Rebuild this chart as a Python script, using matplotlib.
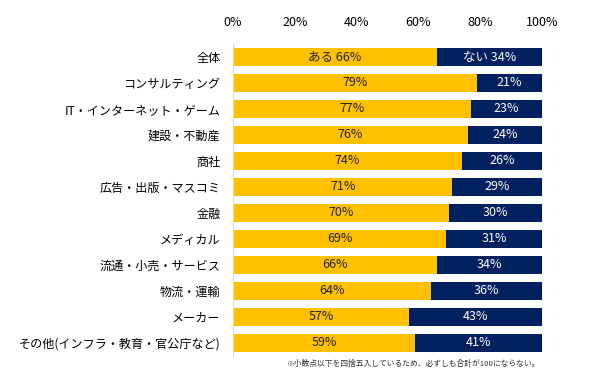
import matplotlib
matplotlib.use("Agg")
import matplotlib.pyplot as plt

plt.rcParams['font.family'] = ['Noto Sans CJK JP', 'DejaVu Sans']

categories = ["全体", "コンサルティング", "IT・インターネット・ゲーム", "建設・不動産",
              "商社", "広告・出版・マスコミ", "金融", "メディカル",
              "流通・小売・サービス", "物流・運輸", "メーカー",
              "その他(インフラ・教育・官公庁など)"]
yes_pct = [66, 79, 77, 76, 74, 71, 70, 69, 66, 64, 57, 59]
no_pct = [34, 21, 23, 24, 26, 29, 30, 31, 34, 36, 43, 41]
ticks = [0, 20, 40, 60, 80, 100]

YELLOW = '#FFC000'
NAVY = '#002060'

fig = plt.figure(figsize=(5.91, 3.78), dpi=100)
ax = fig.add_axes([233 / 591, 1 - 356 / 378, 309 / 591, 312 / 378])

ys = list(range(len(categories)))
ax.barh(ys, yes_pct, height=0.69, color=YELLOW)
ax.barh(ys, no_pct, left=yes_pct, height=0.69, color=NAVY)

for i, (a, b) in enumerate(zip(yes_pct, no_pct)):
    la = f"ある {a}%" if i == 0 else f"{a}%"
    lb = f"ない {b}%" if i == 0 else f"{b}%"
    ax.text(a / 2, i, la, ha='center', va='center', fontsize=9, color='#222222')
    ax.text(a + b / 2, i, lb, ha='center', va='center', fontsize=9, color='white')

ax.set_xlim(0, 100)
ax.set_ylim(len(categories) - 0.5, -0.5)
ax.set_yticks(ys)
ax.set_yticklabels(categories, fontsize=8.7)
ax.set_xticks(ticks)
ax.set_xticklabels([f"{t}%" for t in ticks], fontsize=9)
ax.xaxis.tick_top()
ax.tick_params(axis='y', length=0, pad=9)
ax.tick_params(axis='x', length=0, pad=11)
for s in ['top', 'right', 'bottom']:
    ax.spines[s].set_visible(False)
ax.spines['left'].set_color('#D9D9D9')

fig.text(540 / 591, 1 - 364 / 378, "※小数点以下を四捨五入しているため、必ずしも合計が100にならない。",
         ha='right', va='center', fontsize=5.6, color='#333333')

fig.savefig("out.png", dpi=100)
